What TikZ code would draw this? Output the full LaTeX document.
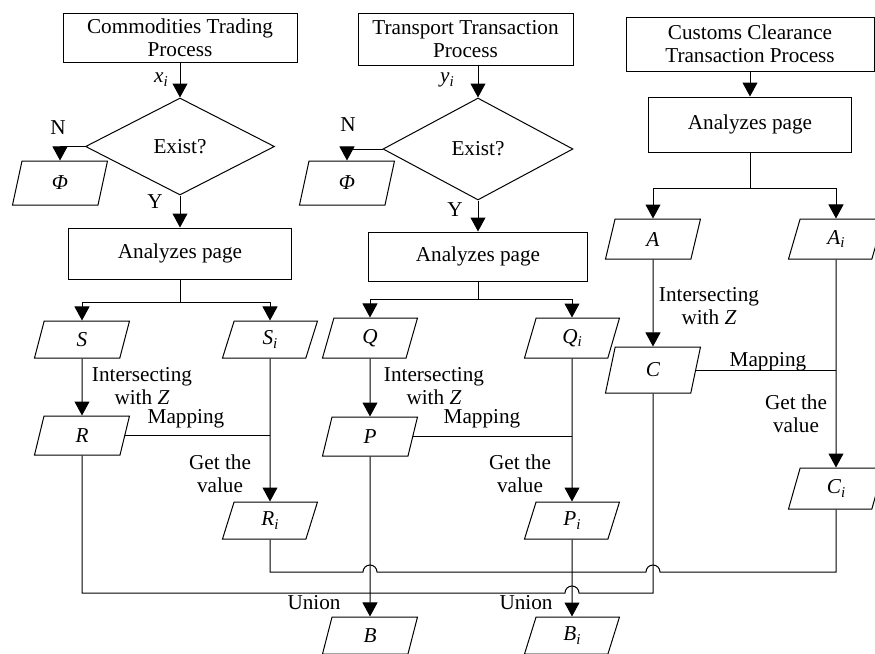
\documentclass[tikz,border=0pt]{standalone}
\usepackage{fontspec}
\setmainfont{Liberation Serif}
\usetikzlibrary{shapes.geometric,arrows.meta}

\newcommand{\vsub}[2]{\textit{#1}\raisebox{-0.4ex}{\fontsize{7.5}{8}\selectfont\textit{#2}}}

\tikzset{
  proc/.style={rectangle,draw,align=center,inner sep=0pt},
  dec/.style={diamond,draw,inner sep=0pt},
  io/.style={trapezium,trapezium left angle=62,trapezium right angle=118,
    trapezium stretches body,draw,inner sep=1pt,minimum width=47.5pt},
  lbl/.style={align=center,inner sep=0pt}
}

\begin{document}
\begin{tikzpicture}[x=0.5pt,y=-0.5pt,line width=0.5pt,
    font=\fontsize{10.6}{11.5}\selectfont,>={Triangle[length=7pt,width=7.5pt]}]
  \useasboundingbox (0,0) rectangle (875,654);

  % process boxes
  \foreach \n/\x/\y/\w/\h/\t in {
      pc/180/37.5/117/24.5/{Commodities Trading\\Process},
      pt/465.5/39/107.5/26/{Transport Transaction\\Process},
      pk/750/44/124/27/{Customs Clearance\\Transaction Process},
      ac/180/253.5/111.5/25.5/Analyzes page,
      at/478/256.5/109.5/24.5/Analyzes page,
      ak/750/124.5/101.5/27.5/Analyzes page}
    \node[proc,minimum width=\w pt,minimum height=\h pt] (\n) at (\x,\y) {\t};

  \node[dec,minimum width=94.5pt,minimum height=48.5pt] (ec) at (180,146.5) {Exist?};
  \node[dec,minimum width=95pt,minimum height=51pt] (et) at (478,149) {Exist?};

  % data
  \foreach \n/\x/\y/\h/\t in {
      fc/60/183/22/\textit{Φ}, ft/347/183/22/\textit{Φ},
      S/82/339.5/18.5/\textit{S}, Si/270/339.5/18.5/\vsub{S}{i},
      Q/370/338/20/\textit{Q}, Qi/572/338/20/\vsub{Q}{i},
      A/653/239/20/\textit{A}, Ai/836/239/20/\vsub{A}{i},
      R/82/435.5/19.5/\textit{R}, P/370/436.5/19.5/\textit{P}, C/653/370/23/\textit{C},
      Ri/270/520.5/18.5/\vsub{R}{i}, Pi/572/520.5/18.5/\vsub{P}{i},
      Ci/836/488.5/20.5/\vsub{C}{i},
      B/370/635.5/18.5/\textit{B}, Bi/572/635.5/18.5/\vsub{B}{i}}
    \node[io,minimum height=\h pt] (\n) at (\x,\y) {\t};

  \coordinate (jc) at (180,302);
  \coordinate (jt) at (478,299);
  \coordinate (jk) at (750,188);
  \coordinate (u) at (0,572);
  \coordinate (w) at (0,593);
  \coordinate (hP) at (P |- u);
  \coordinate (hC) at (C |- u);
  \coordinate (hPi) at (Pi |- w);

  \draw[->] (pc) -- (ec);
  \draw[->] (et.north |- pt.south) -- (et.north);
  \draw[->] (pk) -- (ak);
  \draw[->] (ec.west) -| (fc.north);
  \draw[->] (et.west) -| (ft.north);
  \draw[->] (ec) -- (ac);
  \draw[->] (et) -- (at);

  \draw (ac) -- (jc);
  \draw (at) -- (jt);
  \draw (ak) -- (jk);
  \foreach \j/\a/\b in {jc/S/Si, jt/Q/Qi, jk/A/Ai} {
    \draw[->] (\j) -| (\a.north);
    \draw[->] (\j) -| (\b.north);
  }

  \foreach \a/\b/\c/\d in {S/R/Si/Ri, Q/P/Qi/Pi, A/C/Ai/Ci} {
    \draw[->] (\a) -- (\b);
    \draw[->] (\c) -- (\d);
    \draw (\b.east) -- (\b.east -| \c);
  }

  % union lines
  \draw (Ri.south) |- ([xshift=-3.5pt]hP) arc[start angle=180,end angle=0,radius=3.5pt]
    -- ([xshift=-3.5pt]hC) arc[start angle=180,end angle=0,radius=3.5pt] -| (Ci.south);
  \draw (R.south) |- ([xshift=-3.5pt]hPi) arc[start angle=180,end angle=0,radius=3.5pt]
    -| (C.south);
  \draw[->] (P) -- (B);
  \draw[->] (Pi) -- (Bi);

  % labels
  \node[lbl] (lx) at (161,80) {\vsub{x}{i}};
  \node[lbl] (ly) at (447,80) {\vsub{y}{i}};
  \node[lbl] (nc) at (58,128) {N};
  \node[lbl] (nt) at (348,125) {N};
  \node[lbl] (yc) at (155,202) {Y};
  \node[lbl] (yt) at (455,210) {Y};
  \node[lbl] (ic) at (142,386) {Intersecting\\with \textit{Z}};
  \node[lbl] (it) at (434,386) {Intersecting\\with \textit{Z}};
  \node[lbl] (ik) at (709,306) {Intersecting\\with \textit{Z}};
  \node[lbl] (mc) at (186,419) {Mapping};
  \node[lbl] (mt) at (482,419) {Mapping};
  \node[lbl] (mk) at (768,362) {Mapping};
  \node[lbl] (gc) at (220,474) {Get the\\value};
  \node[lbl] (gt) at (520,474) {Get the\\value};
  \node[lbl] (gk) at (796,414) {Get the\\value};
  \node[lbl] (uc) at (314,603) {Union};
  \node[lbl] (ut) at (526,603) {Union};
\end{tikzpicture}
\end{document}
